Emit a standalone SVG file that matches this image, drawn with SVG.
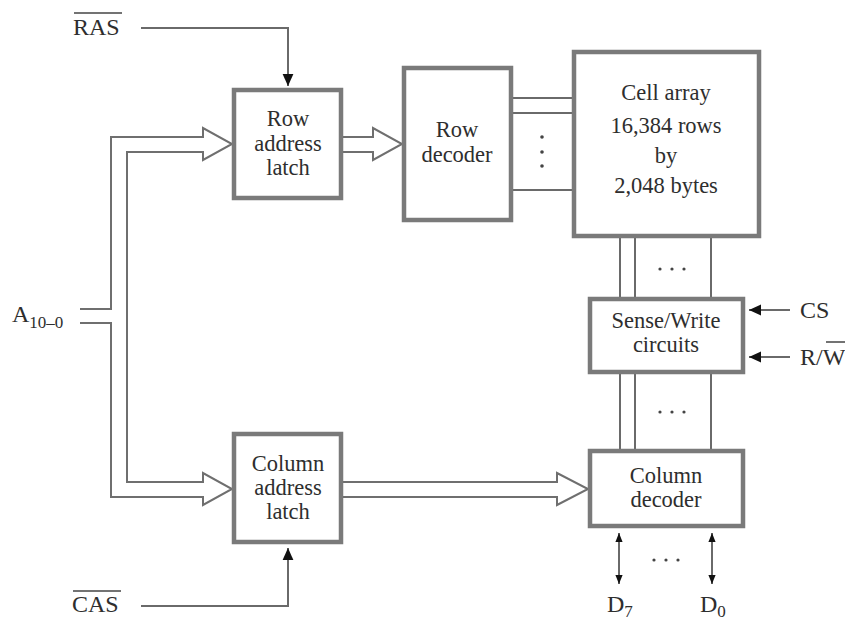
<svg xmlns="http://www.w3.org/2000/svg" width="845" height="620" viewBox="0 0 845 620">
<defs>
<style>
.box{fill:#fff;stroke:#7a7a7a;stroke-width:4.5}
.ln{fill:none;stroke:#6a6a6a;stroke-width:2}
.bus{fill:#fff;stroke:#6f6f6f;stroke-width:2;stroke-linejoin:miter}
.t{font-family:"Liberation Serif","Times New Roman",serif;font-size:22.5px;fill:#2e2e2e;text-anchor:middle}
.lbl{font-family:"Liberation Serif","Times New Roman",serif;font-size:24px;fill:#2e2e2e}
.dot{fill:#444}
</style>
<marker id="ah" viewBox="0 0 10 10" refX="10" refY="5" markerWidth="6" markerHeight="6" orient="auto" markerUnits="strokeWidth">
<path d="M0,0.5 L10,5 L0,9.5 z" fill="#111"/>
</marker>
<marker id="ahs" viewBox="0 0 10 10" refX="10" refY="5" markerWidth="4.5" markerHeight="4.5" orient="auto-start-reverse" markerUnits="strokeWidth">
<path d="M0,1 L10,5 L0,9 z" fill="#111"/>
</marker>
</defs>

<g id="connectors">
<path class="ln" d="M141,28 H288 V86" marker-end="url(#ah)"/>
<path class="ln" d="M141,606 H288 V548" marker-end="url(#ah)"/>
<path class="bus" d="M80,309 H111 V137 H203 V128 L232,144 L203,160 V152 H127 V482 H203 V473 L232,489 L203,505 V497 H111 V323 H80"/>
<path class="bus" d="M343,137 H373 V128 L402,144 L373,160 V152 H343"/>
<path class="bus" d="M343,482 H557 V473 L588,489 L557,505 V497 H343"/>
<path class="ln" d="M513,98 H572 M513,113 H572 M513,190 H572"/>
<circle class="dot" cx="542" cy="137" r="1.8"/>
<circle class="dot" cx="542" cy="152" r="1.8"/>
<circle class="dot" cx="542" cy="166" r="1.8"/>
<path class="ln" d="M620,238 V297 M635,238 V297 M711,238 V297"/>
<circle class="dot" cx="660" cy="269" r="1.6"/>
<circle class="dot" cx="672" cy="269" r="1.6"/>
<circle class="dot" cx="684" cy="269" r="1.6"/>
<path class="ln" d="M620,374 V449 M635,374 V449 M711,374 V449"/>
<circle class="dot" cx="660" cy="412" r="1.6"/>
<circle class="dot" cx="672" cy="412" r="1.6"/>
<circle class="dot" cx="684" cy="412" r="1.6"/>
<path class="ln" d="M790,310 H749" marker-end="url(#ah)"/>
<path class="ln" d="M790,357 H749" marker-end="url(#ah)"/>
<path class="ln" d="M619,533 V584" marker-start="url(#ahs)" marker-end="url(#ahs)"/>
<path class="ln" d="M712,533 V584" marker-start="url(#ahs)" marker-end="url(#ahs)"/>
<circle class="dot" cx="654" cy="560" r="1.6"/>
<circle class="dot" cx="666" cy="560" r="1.6"/>
<circle class="dot" cx="678" cy="560" r="1.6"/>
</g>

<g id="row-address-latch">
<rect class="box" x="234" y="90" width="107" height="108"/>
<text class="t" x="288" y="126">Row</text>
<text class="t" x="288" y="151">address</text>
<text class="t" x="288" y="175">latch</text>
</g>

<g id="row-decoder">
<rect class="box" x="404" y="68" width="107" height="152"/>
<text class="t" x="457" y="137">Row</text>
<text class="t" x="457" y="162">decoder</text>
</g>

<g id="cell-array">
<rect class="box" x="574" y="52" width="185" height="184"/>
<text class="t" x="666" y="100">Cell array</text>
<text class="t" x="666" y="133">16,384 rows</text>
<text class="t" x="666" y="163">by</text>
<text class="t" x="666" y="193">2,048 bytes</text>
</g>

<g id="sense-write">
<rect class="box" x="590" y="299" width="153" height="73"/>
<text class="t" x="666" y="328">Sense/Write</text>
<text class="t" x="666" y="352">circuits</text>
</g>

<g id="column-address-latch">
<rect class="box" x="234" y="434" width="107" height="108"/>
<text class="t" x="288" y="471">Column</text>
<text class="t" x="288" y="495">address</text>
<text class="t" x="288" y="519">latch</text>
</g>

<g id="column-decoder">
<rect class="box" x="590" y="451" width="153" height="75"/>
<text class="t" x="666" y="483">Column</text>
<text class="t" x="666" y="507">decoder</text>
</g>

<g id="labels">
<text class="lbl" x="73" y="35">RAS</text>
<line x1="74" y1="13" x2="122" y2="13" stroke="#444" stroke-width="1.5"/>
<text class="lbl" x="72" y="612">CAS</text>
<line x1="73" y1="591" x2="121" y2="591" stroke="#444" stroke-width="1.5"/>
<text class="lbl" x="12" y="322">A<tspan font-size="17" dy="6">10–0</tspan></text>
<text class="lbl" x="800" y="318">CS</text>
<text class="lbl" x="800" y="365">R/W</text>
<line x1="826" y1="342" x2="845" y2="342" stroke="#444" stroke-width="1.5"/>
<text class="lbl" x="607" y="612">D<tspan font-size="17" dy="5">7</tspan></text>
<text class="lbl" x="700" y="612">D<tspan font-size="17" dy="5">0</tspan></text>
</g>
</svg>
